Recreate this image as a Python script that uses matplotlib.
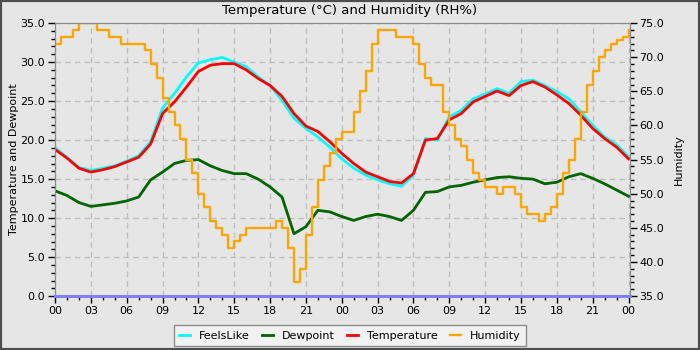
import matplotlib
matplotlib.use("Agg")
import matplotlib.pyplot as plt
from matplotlib.patches import Rectangle
from matplotlib.ticker import MultipleLocator, FuncFormatter, FormatStrFormatter

# hourly readings, hour 0 .. 48
hours = list(range(49))

temperature = [18.8, 17.7, 16.4, 15.9, 16.2, 16.6, 17.2, 17.8, 19.5, 23.4,
               24.9, 26.8, 28.8, 29.6, 29.8, 29.8, 29.0, 27.9, 27.0, 25.6,
               23.4, 21.8, 21.1, 19.8, 18.3, 17.0, 15.9, 15.3, 14.7, 14.5,
               15.7, 20.0, 20.2, 22.6, 23.4, 24.9, 25.6, 26.3, 25.7, 27.0,
               27.5, 26.8, 25.8, 24.7, 23.2, 21.5, 20.2, 19.1, 17.6]

feels_like = [19.0, 17.8, 16.5, 16.1, 16.4, 16.7, 17.3, 18.0, 19.8, 24.1,
              26.0, 28.1, 29.9, 30.3, 30.6, 30.0, 29.4, 28.1, 27.0, 25.1,
              22.8, 21.5, 20.4, 19.1, 17.6, 16.4, 15.5, 14.9, 14.4, 14.1,
              15.5, 20.2, 20.0, 23.0, 23.8, 25.3, 25.9, 26.6, 26.0, 27.5,
              27.7, 27.0, 26.2, 25.3, 23.6, 21.9, 20.4, 19.4, 17.9]

dewpoint = [13.5, 12.9, 12.0, 11.5, 11.7, 11.9, 12.2, 12.7, 14.9, 15.9,
            17.0, 17.4, 17.5, 16.7, 16.1, 15.7, 15.7, 15.0, 14.0, 12.7,
            8.0, 8.9, 11.0, 10.8, 10.2, 9.7, 10.2, 10.5, 10.2, 9.7,
            11.0, 13.3, 13.4, 14.0, 14.2, 14.6, 14.9, 15.2, 15.3, 15.1,
            15.0, 14.4, 14.6, 15.3, 15.7, 15.1, 14.4, 13.6, 12.8]

# humidity read every half hour
hum_hours = [h / 2 for h in range(97)]
humidity = [72, 73, 73, 74, 75, 75, 75, 74, 74, 73,
            73, 72, 72, 72, 72, 71, 69, 67, 64, 62,
            60, 58, 55, 53, 50, 48, 46, 45, 44, 42,
            43, 44, 45, 45, 45, 45, 45, 46, 45, 42,
            37, 39, 44, 48, 52, 54, 56, 58, 59, 59,
            62, 65, 68, 72, 74, 74, 74, 73, 73, 73,
            72, 69, 67, 66, 66, 62, 60, 58, 57, 55,
            53, 52, 51, 51, 50, 51, 51, 50, 48, 47,
            47, 46, 47, 48, 50, 53, 55, 58, 62, 66,
            68, 70, 71, 72, 72.5, 73, 74]

bg = "#e6e6e6"
fs = 8

fig = plt.figure(figsize=(7, 3.5), dpi=100, facecolor=bg)
fig.patches.append(Rectangle((0, 0), 1, 1, transform=fig.transFigure,
                             fill=False, edgecolor="#4d4d4d", linewidth=3))

ax = fig.add_axes([0.0786, 0.154, 0.821, 0.78])
ax.set_facecolor(bg)
ax2 = ax.twinx()

l1, = ax.plot(hours, feels_like, color="#00ffff", lw=2, label="FeelsLike")
l2, = ax.plot(hours, dewpoint, color="#006400", lw=2, label="Dewpoint")
l3, = ax.plot(hours, temperature, color="#ff0000", lw=2, label="Temperature")
l4, = ax2.plot(hum_hours, humidity, color="#ffa500", lw=1.7,
               drawstyle="steps-post", label="Humidity")
ax2.axhline(35, color="#7f7fff", lw=2.2, zorder=5, clip_on=False)

ax.set_xlim(0, 48.1)
ax.set_ylim(0, 35)
ax2.set_ylim(35, 75)

ax.xaxis.set_major_locator(MultipleLocator(3))
ax.xaxis.set_minor_locator(MultipleLocator(1))
ax.xaxis.set_major_formatter(FuncFormatter(lambda v, p: "%02d" % (int(round(v)) % 24)))
ax.yaxis.set_major_locator(MultipleLocator(5))
ax.yaxis.set_minor_locator(MultipleLocator(1))
ax.yaxis.set_major_formatter(FormatStrFormatter("%.1f"))
ax2.yaxis.set_major_locator(MultipleLocator(5))
ax2.yaxis.set_minor_locator(MultipleLocator(1))
ax2.yaxis.set_major_formatter(FormatStrFormatter("%.1f"))

for a in (ax, ax2):
    a.tick_params(which="major", length=5, width=1, color="black",
                  labelsize=fs, pad=2)
    a.tick_params(which="minor", length=3, width=1, color="black")
    for s in a.spines.values():
        s.set_color("#8c8c8c")

ax.grid(True, which="major", color="#bfbfbf", linestyle=(0, (4, 3)), lw=1)
ax.set_axisbelow(True)

ax.set_ylabel("Temperature and Dewpoint", fontsize=fs, labelpad=1)
ax2.set_ylabel("Humidity", fontsize=fs, labelpad=7)
fig.text(0.5, 0.97, "Temperature (\u00b0C) and Humidity (RH%)",
         ha="center", va="center", fontsize=9.5)

leg = fig.legend(handles=[l1, l2, l3, l4], loc="lower center",
                 bbox_to_anchor=(0.5, -0.005), ncol=4, fontsize=fs,
                 frameon=True, fancybox=False, handlelength=1.0,
                 handletextpad=0.8, columnspacing=1.1, borderpad=0.5)
leg.get_frame().set_facecolor("#f2f2f2")
leg.get_frame().set_edgecolor("#8c8c8c")
leg.get_frame().set_alpha(1)

fig.savefig("out.png", dpi=100, facecolor=bg)
